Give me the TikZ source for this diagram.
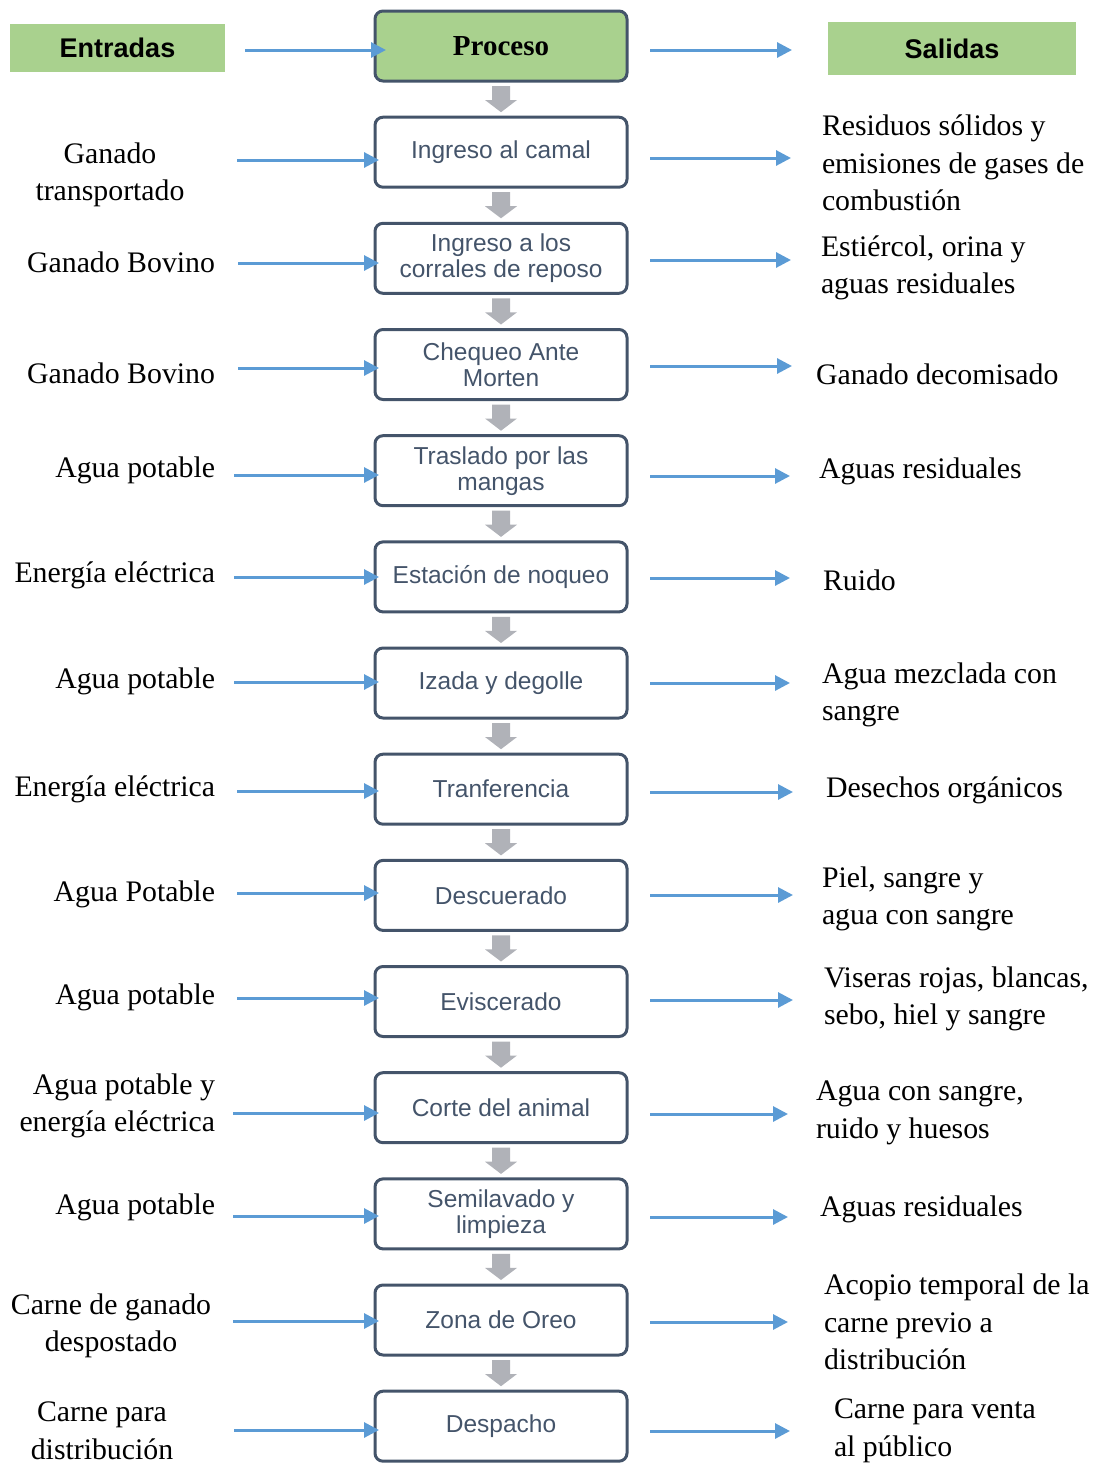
\documentclass[tikz,border=0pt]{standalone}
\usepackage{fontspec}
\setmainfont{Liberation Serif}
\newfontfamily\arialf{Liberation Sans}
\usetikzlibrary{arrows.meta,calc}

\definecolor{hdrgreen}{RGB}{169,209,142}
\definecolor{slate}{RGB}{68,84,106}
\definecolor{flowblue}{RGB}{91,155,213}
\definecolor{stepgray}{RGB}{176,178,184}

\tikzset{
  procbox/.style={draw=slate, line width=3pt, rounded corners=8pt,
    minimum width=252pt, minimum height=70pt, inner sep=0pt, outer sep=0pt,
    align=center, text=slate, font=\arialf\fontsize{24.5}{26}\selectfont},
  hdrbox/.style={fill=hdrgreen, inner sep=0pt, outer sep=0pt,
    font=\arialf\bfseries\fontsize{27}{30}\selectfont},
  lbl/.style={inner sep=0pt, outer sep=0pt, yshift=-2pt, font=\fontsize{29.8}{37.5}\selectfont},
  inlbl/.style={lbl, anchor=east, align=right},
  outlbl/.style={lbl, anchor=west, align=left},
  flow/.style={draw=flowblue, line width=3pt, -{Triangle[length=15pt,width=15pt]}},
  flowout/.style={flow, shorten <=23pt},
}

\begin{document}
\begin{tikzpicture}[x=1pt,y=-1pt]
\useasboundingbox (0,0) rectangle (1101,1465);

% column headers
\node[hdrbox, minimum width=215pt, minimum height=48pt] (ent) at (117.5,48) {Entradas};
\node[hdrbox, minimum width=248pt, minimum height=53pt] (sal) at (952,48.5) {Salidas};

% process steps
\node[procbox, fill=hdrgreen, text=black, font=\bfseries\fontsize{29}{32}\selectfont] (p0) at (501,46) {Proceso};
\node[procbox] (p1)  at (501,152.2)  {Ingreso al camal};
\node[procbox] (p2)  at (501,258.3)  {Ingreso a los\\corrales de reposo};
\node[procbox] (p3)  at (501,364.5)  {Chequeo Ante\\Morten};
\node[procbox] (p4)  at (501,470.7)  {Traslado por las\\mangas};
\node[procbox] (p5)  at (501,576.9)  {Estación de noqueo};
\node[procbox] (p6)  at (501,683.0)  {Izada y degolle};
\node[procbox] (p7)  at (501,789.2)  {Tranferencia};
\node[procbox] (p8)  at (501,895.4)  {Descuerado};
\node[procbox] (p9)  at (501,1001.5) {Eviscerado};
\node[procbox] (p10) at (501,1107.7) {Corte del animal};
\node[procbox] (p11) at (501,1213.9) {Semilavado y\\limpieza};
\node[procbox] (p12) at (501,1320.0) {Zona de Oreo};
\node[procbox] (p13) at (501,1426.2) {Despacho};

% gray step arrows between consecutive boxes
\foreach \a/\b in {p0/p1,p1/p2,p2/p3,p3/p4,p4/p5,p5/p6,p6/p7,p7/p8,p8/p9,p9/p10,p10/p11,p11/p12,p12/p13}{
  \fill[stepgray] ($(\a.south)+(-9,5)$) -- ($(\a.south)+(9,5)$) -- ($(\a.south)+(9,19)$)
    -- ($(\a.south)+(16,19)$) -- ($(\b.north)+(0,-5)$) -- ($(\a.south)+(-16,19)$)
    -- ($(\a.south)+(-9,19)$) -- cycle;
}

% inputs
\node[lbl, align=center] (l1) at (110,173) {Ganado\\transportado};
\node[inlbl] (l2)  at (215,260)  {Ganado Bovino};
\node[inlbl] (l3)  at (215,371)  {Ganado Bovino};
\node[inlbl] (l4)  at (215,468)  {Agua potable};
\node[inlbl] (l5)  at (215,573)  {Energía eléctrica};
\node[inlbl] (l6)  at (215,679)  {Agua potable};
\node[inlbl] (l7)  at (215,787)  {Energía eléctrica};
\node[inlbl] (l8)  at (215,892)  {Agua Potable};
\node[inlbl] (l9)  at (215,995)  {Agua potable};
\node[inlbl] (l10) at (215,1104) {Agua potable y\\energía eléctrica};
\node[inlbl] (l11) at (215,1205) {Agua potable};
\node[lbl, align=center] (l12) at (111,1324) {Carne de ganado\\despostado};
\node[lbl, align=center] (l13) at (102,1429) {Carne para\\distribución};

% outputs
\node[outlbl] (r1)  at (822,161)  {Residuos sólidos y\\emisiones de gases de\\combustión};
\node[outlbl] (r2)  at (821,266)  {Estiércol, orina y\\aguas residuales};
\node[outlbl] (r3)  at (816,372)  {Ganado decomisado};
\node[outlbl] (r4)  at (819,469)  {Aguas residuales};
\node[outlbl] (r5)  at (823,578)  {Ruido};
\node[outlbl] (r6)  at (822,693)  {Agua mezclada con\\sangre};
\node[outlbl] (r7)  at (826,788)  {Desechos orgánicos};
\node[outlbl] (r8)  at (822,897)  {Piel, sangre y\\agua con sangre};
\node[outlbl] (r9)  at (824,997)  {Viseras rojas, blancas,\\sebo, hiel y sangre};
\node[outlbl] (r10) at (816,1111) {Agua con sangre,\\ruido y huesos};
\node[outlbl] (r11) at (820,1207) {Aguas residuales};
\node[outlbl] (r12) at (824,1320) {Acopio temporal de la\\carne previo a\\distribución};
\node[outlbl] (r13) at (834,1429) {Carne para venta\\al público};

% free ends of the blue flow arrows
\coordinate (la0) at (245,50);   \coordinate (ra0) at (792,50);
\coordinate (la1) at (237,160);  \coordinate (ra1) at (791,158);
\coordinate (la2) at (238,263);  \coordinate (ra2) at (791,260);
\coordinate (la3) at (238,368);  \coordinate (ra3) at (792,366);
\coordinate (la4) at (234,475);  \coordinate (ra4) at (790,476);
\coordinate (la5) at (234,577);  \coordinate (ra5) at (790,578);
\coordinate (la6) at (234,682);  \coordinate (ra6) at (790,683);
\coordinate (la7) at (237,791);  \coordinate (ra7) at (793,792);
\coordinate (la8) at (237,893);  \coordinate (ra8) at (793,895);
\coordinate (la9) at (237,998);  \coordinate (ra9) at (793,1000);
\coordinate (la10) at (233,1113); \coordinate (ra10) at (788,1114);
\coordinate (la11) at (233,1216); \coordinate (ra11) at (788,1217);
\coordinate (la12) at (233,1321); \coordinate (ra12) at (788,1322);
\coordinate (la13) at (234,1430); \coordinate (ra13) at (790,1431);

% blue arrows: inputs into each step, outputs away from it
\draw[flow, shorten >=-11pt] (la0) -- (la0 -| p0.west);
\draw[flowout] (p0.east |- ra0) -- (ra0);
\foreach \k in {1,...,13}{
  \draw[flow, shorten >=-4pt] (la\k) -- (la\k -| p\k.west);
  \draw[flowout] (p\k.east |- ra\k) -- (ra\k);
}
\end{tikzpicture}
\end{document}
